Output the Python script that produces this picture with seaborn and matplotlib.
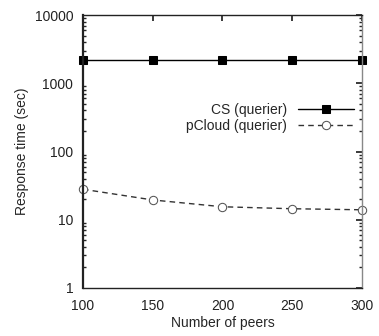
import numpy as np
import pandas as pd
import matplotlib
matplotlib.use("Agg")
import matplotlib.pyplot as plt
import seaborn as sns

# values
peers = [100, 150, 200, 250, 300]
cs_querier = [2200, 2200, 2200, 2200, 2200]
pcloud_querier = [28, 19.5, 15.5, 14.5, 14]
series_names = ["CS (querier)", "pCloud (querier)"]
x_ticks = [100, 150, 200, 250, 300]
y_ticks = [1, 10, 100, 1000, 10000]

df = pd.DataFrame({
    "peers": peers * 2,
    "time": cs_querier + pcloud_querier,
    "series": [series_names[0]] * len(peers) + [series_names[1]] * len(peers),
})

sns.set_theme(style="white")
plt.rcParams["font.family"] = ["Liberation Sans", "DejaVu Sans"]
plt.rcParams["font.size"] = 10

fig = plt.figure(figsize=(3.79, 3.36), dpi=100)
ax = fig.add_axes([0.219, 0.143, 0.736, 0.812])

sns.lineplot(data=df, x="peers", y="time", hue="series", style="series",
             markers={series_names[0]: "s", series_names[1]: "o"},
             dashes={series_names[0]: "", series_names[1]: (4, 3)},
             palette={series_names[0]: "black", series_names[1]: "#333333"},
             linewidth=1.0, markersize=6, ax=ax, legend=True)


def style_line(line, name):
    if name == series_names[1]:
        line.set_markerfacecolor("white")
        line.set_markeredgecolor("#555555")
    else:
        line.set_markerfacecolor("black")
        line.set_markeredgecolor("black")


for line, name in zip(ax.lines, series_names):
    style_line(line, name)
    line.set_clip_on(False)

ax.set_yscale("log")
ax.set_ylim(1, 10000)
ax.set_xlim(100, 300)
ax.set_xticks(x_ticks)
ax.set_xticklabels([str(t) for t in x_ticks])
ax.set_yticks(y_ticks)
ax.set_yticklabels([str(t) for t in y_ticks])
ax.tick_params(axis="x", pad=8)
ax.tick_params(axis="y", pad=7)
ax.tick_params(direction="in", length=4, which="major", colors="#222222", labelsize=10)
ax.tick_params(direction="in", length=2, which="minor", left=True, right=True)
ax.tick_params(top=True, right=True)
ax.yaxis.set_minor_locator(matplotlib.ticker.LogLocator(subs=np.arange(2, 10)))
ax.yaxis.set_minor_formatter(matplotlib.ticker.NullFormatter())

for s in ax.spines.values():
    s.set_color("#222222")
    s.set_linewidth(1.0)
ax.spines["left"].set_linewidth(1.6)
ax.spines["right"].set_color("#888888")

ax.set_xlabel("Number of peers", fontsize=10, labelpad=2)
ax.set_ylabel("Response time (sec)", fontsize=10, labelpad=4)

leg = ax.legend(loc="upper right", bbox_to_anchor=(0.99, 0.70), frameon=False,
                markerfirst=False, fontsize=10, handlelength=4.0,
                borderaxespad=0, labelspacing=0.2)
for handle, name in zip(leg.legend_handles, series_names):
    style_line(handle, name)

fig.savefig("out.png", dpi=100)
